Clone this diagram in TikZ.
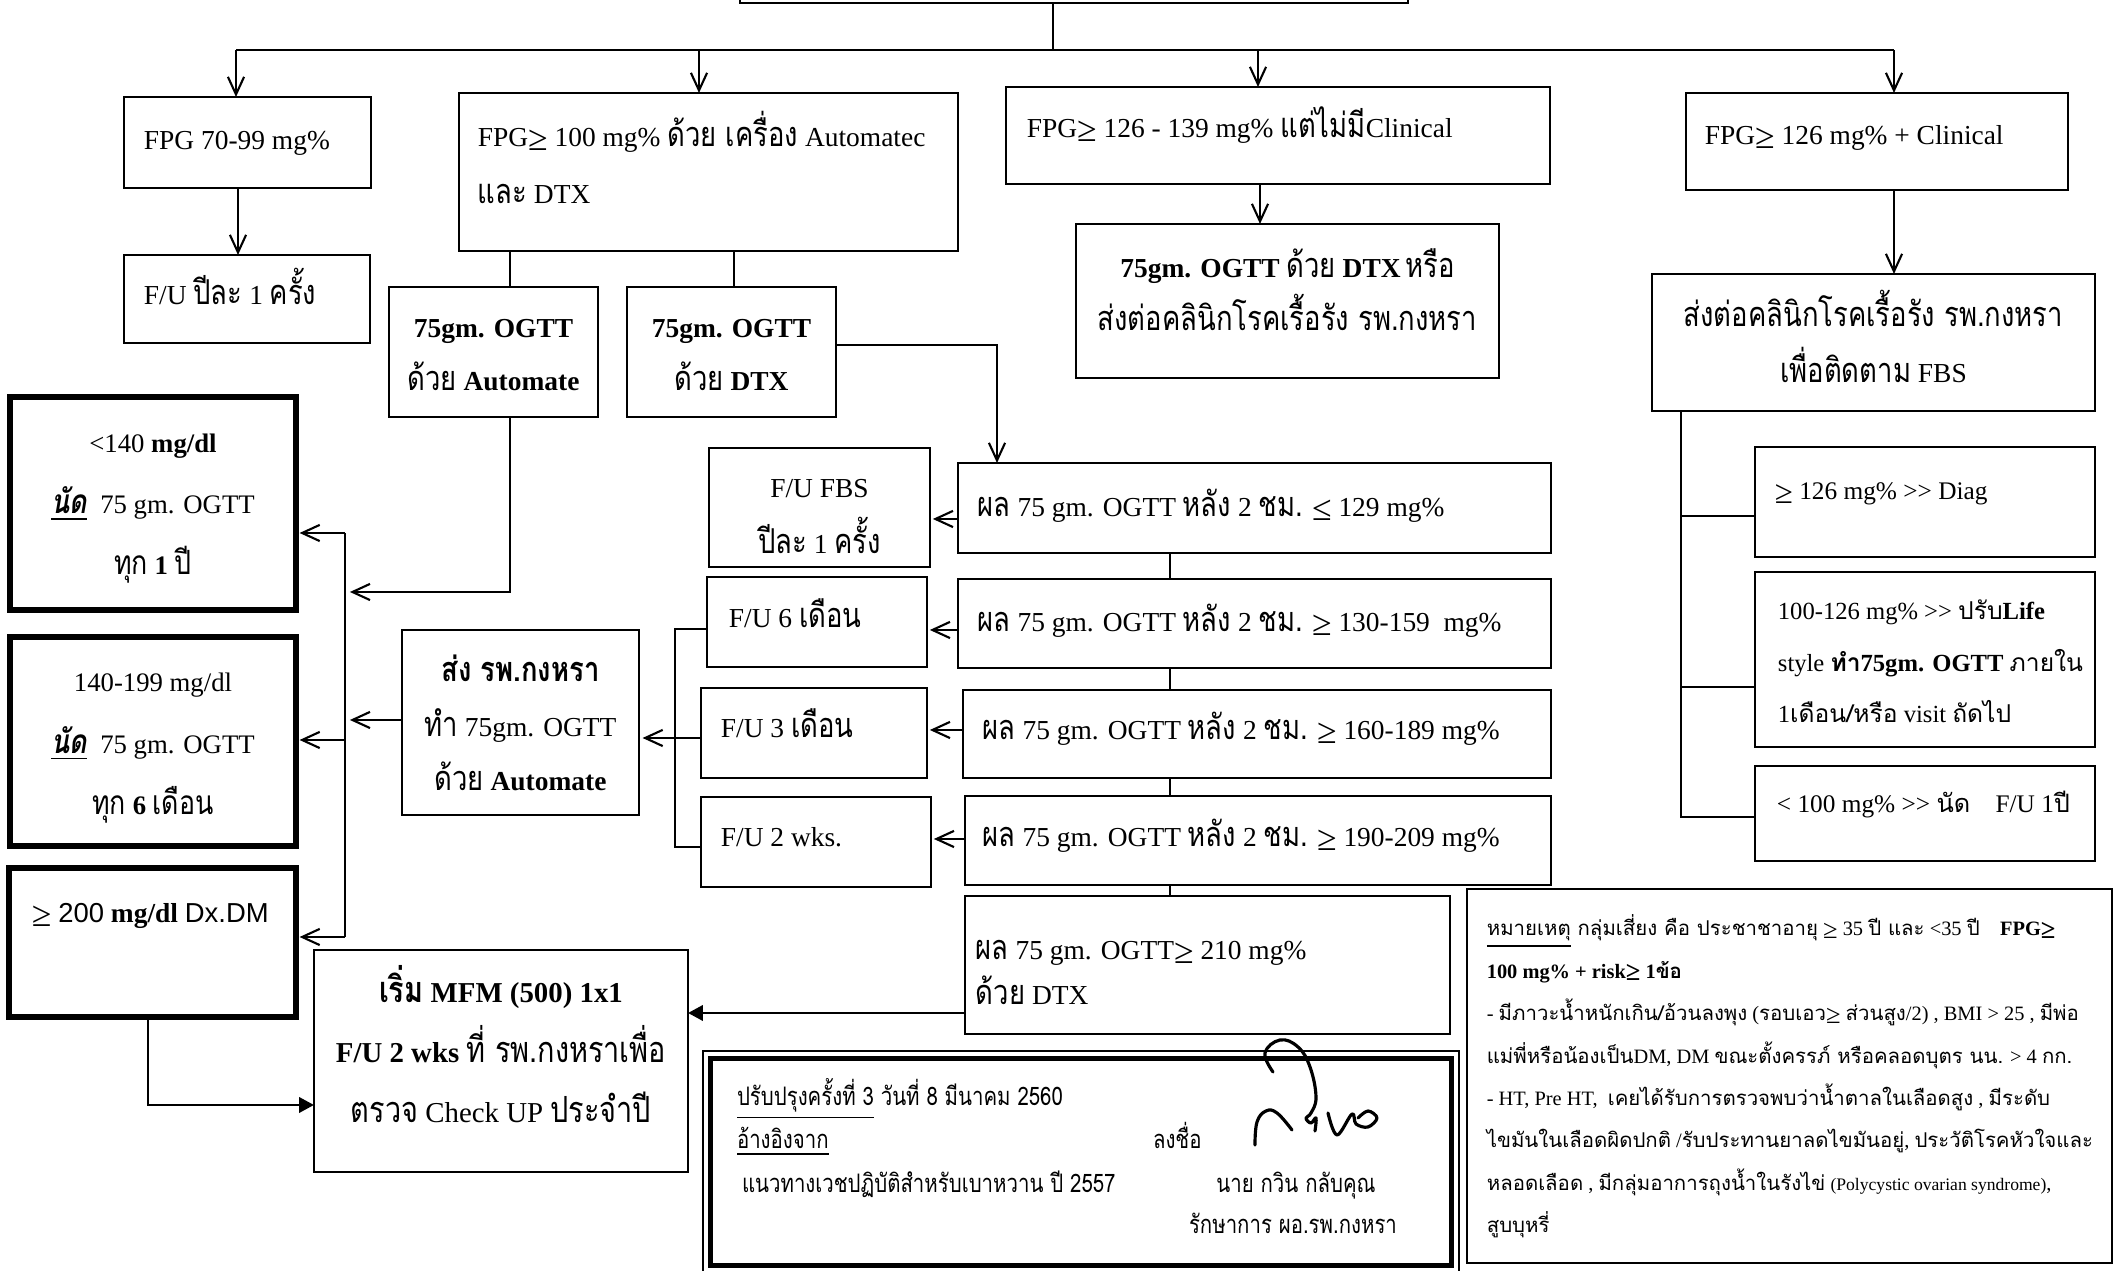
\documentclass[tikz,border=0pt]{standalone}
\usepackage{fontspec}
\usepackage{graphicx}
\setmainfont{Liberation Serif}
\newfontfamily\thaifont[Script=Thai,Scale=1.25,FakeStretch=0.8]{Loma}
\newfontfamily\thaiN[Script=Thai]{Loma}
\newfontfamily\sansfnt{Liberation Sans}
\usetikzlibrary{arrows.meta,calc}
\newdimen\pxu \pxu=0.1mm
\newcommand\T[1]{{\thaifont #1}}
\newcommand\GE{\raisebox{-0.13em}{\scalebox{1.3}{≥}}}
\newcommand\LE{\raisebox{-0.13em}{\scalebox{1.3}{≤}}}
\newcommand\GT{>{}>}
\newcommand\fs[2]{\fontsize{#1}{#2}\selectfont}
\newcommand\fm{\fontsize{7.8}{9}\selectfont}
\newcommand\fc{\let\thaifont\thaiN\fontsize{7.2}{8.5}\selectfont}
% left text: width, pad, raise, font, lines
\newcommand\LT[5]{\makebox[#1\pxu][l]{\hspace*{#2\pxu}\raisebox{#3\pxu}[0pt][0pt]{#4\begin{tabular}[t]{@{}l@{}}#5\end{tabular}}}}
% centred text: raise, font, lines
\newcommand\CT[3]{\raisebox{#1\pxu}[0pt][0pt]{#2\begin{tabular}[t]{@{}c@{}}#3\end{tabular}}}
\tikzset{
  bx/.style n args={4}{draw, line width=0.6pt, inner sep=0pt, outer sep=0pt,
    minimum width={(#3-#1)*0.1mm}, minimum height={(#4-#2)*0.1mm},
    at={({(#1+#3)/2},{(#2+#4)/2})}},
  thickbox/.style={line width=1.5pt},
  ln/.style={line width=0.6pt},
  arr/.style={ln, -{Straight Barb[length=5pt,width=4.6pt]}},
  farr/.style={ln, -{Triangle[length=4.2pt,width=4.4pt]}},
  sig/.style={line width=0.9pt, line cap=round, line join=round},
  txt/.style={inner sep=0pt, outer sep=0pt}
}
\begin{document}
\begin{tikzpicture}[x=0.01cm, y=-0.01cm]
\useasboundingbox (0,0) rectangle (2117,1271);

% ---------- boxes ----------
\node[bx={740}{-100}{1408}{3}] (top) {};
\node[bx={124}{97}{371}{188}] (b1) {\LT{247}{20}{-7.5}{\fm}{FPG 70-99 mg\%}};
\node[bx={124}{255}{370}{343}] (b5) {\LT{246}{20}{-6}{\fm}{F/U \T{ปีละ} 1 \T{ครั้ง}}};
\node[bx={459}{93}{958}{251}] (b2) {\LT{499}{19}{25}{\fs{7.8}{16.2}}{FPG\GE\ 100 mg\% \T{ด้วย เครื่อง} Automatec\\ \T{และ} DTX}};
\node[bx={1006}{87}{1550}{184}] (b3) {\LT{544}{21}{-2.5}{\fm}{FPG\GE\ 126 - 139 mg\% \T{แต่ไม่มี}Clinical}};
\node[bx={1686}{93}{2068}{190}] (b4) {\LT{382}{19}{-3.5}{\fm}{FPG\GE\ 126 mg\% + Clinical}};
\node[bx={389}{287}{598}{417}] (b6) {\CT{14}{\fs{7.8}{15}}{\textbf{75gm. OGTT}\\ \T{ด้วย} \textbf{Automate}}};
\node[bx={627}{287}{836}{417}] (b7) {\CT{14}{\fs{7.8}{15}}{\textbf{75gm. OGTT}\\ \T{ด้วย} \textbf{DTX}}};
\node[bx={1076}{224}{1499}{378}] (b8) {\CT{23}{\fs{7.8}{15}}{\textbf{75gm. OGTT} \T{ด้วย} \textbf{DTX}\,\T{หรือ}\\ \T{ส่งต่อคลินิกโรคเรื้อรัง รพ.กงหรา}}};
\node[bx={1652}{274}{2095}{411}] (b9) {\CT{15.5}{\fs{7.8}{15.9}}{\T{ส่งต่อคลินิกโรคเรื้อรัง รพ.กงหรา}\\ \T{เพื่อติดตาม} FBS}};

\node[bx={1755}{447}{2095}{557}] (c1) {\LT{340}{20}{2}{\fc}{\GE\ 126 mg\% \GT\ Diag}};
\node[bx={1755}{572}{2095}{747}] (c2) {\LT{340}{23}{39.5}{\fc\fs{7}{14.6}}{100-126 mg\% \GT\ \T{ปรับ}\textbf{Life}\\ style \textbf{\T{ทำ}75gm. OGTT} \T{ภายใน}\\ 1\T{เดือน/หรือ} visit \T{ถัดไป}}};
\node[bx={1755}{766}{2095}{861}] (c3) {\LT{340}{22}{0.5}{\fc}{< 100 mg\% \GT\ \T{นัด}\quad F/U 1\T{ปี}}};

\node[bx={10}{397}{296}{610}, thickbox] (l1) {\CT{50.5}{\fs{7.6}{17.3}}{<140 \textbf{mg/dl}\\ \textbf{\textit{\underline{\T{นัด}}}}\ \ 75 gm. OGTT\\ \T{ทุก} \textbf{1} \T{ปี}}};
\node[bx={10}{637}{296}{846}, thickbox] (l2) {\CT{49.5}{\fs{7.6}{17.4}}{140-199 mg/dl\\ \textbf{\textit{\underline{\T{นัด}}}}\ \ 75 gm. OGTT\\ \T{ทุก} \textbf{6} \T{เดือน}}};
\node[bx={9}{868}{296}{1017}, thickbox] (l3) {\LT{287}{23}{19.5}{\fm}{\GE\ {\sansfnt 200} \textbf{mg/dl} {\sansfnt Dx.DM}}};

\node[bx={402}{630}{639}{815}] (s) {\CT{40.5}{\fs{7.8}{15.4}}{\textbf{\T{ส่ง รพ.กงหรา}}\\ \T{ทำ} 75gm. OGTT\\ \T{ด้วย} \textbf{Automate}}};
\node[bx={314}{950}{688}{1172}] (m) {\CT{58}{\fs{8.2}{17}}{\textbf{\T{เริ่ม} MFM (500) 1x1}\\ \textbf{F/U 2 wks} \T{ที่ รพ.กงหราเพื่อ}\\ \T{ตรวจ} Check UP \T{ประจำปี}}};

\node[bx={958}{463}{1551}{553}] (r1) {\LT{593}{20}{-9}{\fm}{\T{ผล} 75 gm. OGTT \T{หลัง} 2 \T{ชม.} \LE\ 129 mg\%}};
\node[bx={958}{579}{1551}{668}] (r2) {\LT{593}{20}{-8.5}{\fm}{\T{ผล} 75 gm. OGTT \T{หลัง} 2 \T{ชม.} \GE\ 130-159\ \ mg\%}};
\node[bx={963}{690}{1551}{778}] (r3) {\LT{588}{20}{-6}{\fm}{\T{ผล} 75 gm. OGTT \T{หลัง} 2 \T{ชม.} \GE\ 160-189 mg\%}};
\node[bx={965}{796}{1551}{885}] (r4) {\LT{586}{18}{-6.5}{\fm}{\T{ผล} 75 gm. OGTT \T{หลัง} 2 \T{ชม.} \GE\ 190-209 mg\%}};
\node[bx={965}{896}{1450}{1034}] (r5) {\LT{485}{11}{5}{\fs{7.8}{12.8}}{\T{ผล} 75 gm. OGTT\GE\ 210 mg\%\\ \T{ด้วย} DTX}};

\node[bx={709}{448}{930}{567}] (f1) {\CT{9.5}{\fs{7.8}{15.9}}{F/U FBS\\ \T{ปีละ} 1 \T{ครั้ง}}};
\node[bx={707}{577}{927}{667}] (f2) {\LT{220}{22}{-6}{\fm}{F/U 6 \T{เดือน}}};
\node[bx={701}{688}{927}{778}] (f3) {\LT{226}{20}{-5}{\fm}{F/U 3 \T{เดือน}}};
\node[bx={701}{797}{931}{887}] (f4) {\LT{230}{20}{-5}{\fm}{F/U 2 wks.}};

\node[bx={1467}{889}{2112}{1263}] (note) {\LT{645}{20}{140}{\let\thaifont\thaiN\fs{5.8}{12.05}}{%
\underline{\T{หมายเหตุ}}\T{ กลุ่มเสี่ยง คือ ประชาชาอายุ} \GE\ 35 \T{ปี และ} <35 \T{ปี}\quad \textbf{FPG\GE}\\
\textbf{100 mg\% + risk\GE\ 1\T{ข้อ}}\\
- \T{มีภาวะน้ำหนักเกิน/อ้วนลงพุง} (\T{รอบเอว}\GE\ \T{ส่วนสูง}/2) , BMI > 25 , \T{มีพ่อ}\\
\T{แม่พี่หรือน้องเป็น}DM, DM \T{ขณะตั้งครรภ์ หรือคลอดบุตร นน.} > 4 \T{กก.}\\
- HT, Pre HT,\ \ \T{เคยได้รับการตรวจพบว่าน้ำตาลในเลือดสูง} , \T{มีระดับ}\\
\T{ไขมันในเลือดผิดปกติ} /\T{รับประทานยาลดไขมันอยู่}, \T{ประวัติโรคหัวใจและ}\\
\T{หลอดเลือด} , \T{มีกลุ่มอาการถุงน้ำในรังไข่} {\fontsize{5}{6}\selectfont (Polycystic ovarian syndrome)},\\
\T{สูบบุหรี่}}};

% footer
\node[bx={703}{1051}{1459}{1273}, line width=0.5pt] (foot) {};
\draw[line width=1.4pt] ($(foot.north west)+(8,8)$) rectangle ($(foot.south east)+(-8,-8)$);
\node[txt, anchor=base west] (ft1) at (737,1106) {\fs{5.8}{7}\underline{\T{ปรับปรุงครั้งที่ 3}}\T{ วันที่ 8 มีนาคม 2560}};
\node[txt, anchor=base west] (ft2) at (737,1149) {\fs{5.8}{7}\underline{\T{อ้างอิงจาก}}};
\node[txt, anchor=base west] (ft3) at (1153,1149) {\fs{5.8}{7}\T{ลงชื่อ}};
\node[txt, anchor=base west] (ft4) at (742,1193) {\fs{5.8}{7}\T{แนวทางเวชปฏิบัติสำหรับเบาหวาน ปี 2557}};
\node[txt, anchor=base] (ft5) at (1296,1193) {\fs{5.8}{7}\T{นาย กวิน กลับคุณ}};
\node[txt, anchor=base] (ft6) at (1293,1234) {\fs{5.8}{7}\T{รักษาการ ผอ.รพ.กงหรา}};

% signature
\draw[sig] plot[smooth, tension=0.7] coordinates {(1273,1072) (1265,1053) (1280,1040) (1298,1047) (1310,1067) (1316,1097) (1311,1113) (1306,1118) (1311,1123) (1316,1118) (1315,1131)};
\draw[sig] plot[smooth, tension=0.7] coordinates {(1255,1145) (1257,1122) (1266,1111) (1277,1113) (1292,1130)};
\draw[sig] plot[smooth, tension=0.6] coordinates {(1328,1113) (1337,1135) (1352,1114) (1356,1124) (1368,1127) (1377,1118) (1368,1111) (1358,1118)};

% ---------- connectors ----------
\coordinate (tb) at (1053,50);
\coordinate (t1) at (236,50);
\coordinate (t2) at (699,50);
\coordinate (t3) at (1258,50);
\coordinate (t4) at (1894,50);
\draw[ln] (top.south -| tb) -- (tb);
\draw[ln] (t1) -- (t4);
\draw[arr] (t1) -- (t1 |- b1.north);
\draw[arr] (t2) -- (t2 |- b2.north);
\draw[arr] (t3) -- (t3 |- b3.north);
\draw[arr] (t4) -- (t4 |- b4.north);

\coordinate (a1) at (238,0);
\draw[arr] (b1.south -| a1) -- (b5.north -| a1);
\coordinate (a2) at (510,0);
\draw[ln] (b2.south -| a2) -- (b6.north -| a2);
\coordinate (a3) at (734,0);
\draw[ln] (b2.south -| a3) -- (b7.north -| a3);
\coordinate (k1) at (997,345);
\draw[arr] (b7.east |- k1) -- (k1) -- (k1 |- r1.north);
\coordinate (a4) at (1260,0);
\draw[arr] (b3.south -| a4) -- (b8.north -| a4);
\draw[arr] (b4.south -| t4) -- (b9.north -| t4);

\coordinate (cb) at (1681,817);
\coordinate (s1) at (1681,516);
\coordinate (s2) at (1681,687);
\draw[ln] (b9.south -| cb) -- (cb) -- (cb -| c3.west);
\draw[ln] (s1) -- (s1 -| c1.west);
\draw[ln] (s2) -- (s2 -| c2.west);

\coordinate (rx) at (1170,0);
\draw[ln] (r1.south -| rx) -- (r2.north -| rx);
\draw[ln] (r2.south -| rx) -- (r3.north -| rx);
\draw[ln] (r3.south -| rx) -- (r4.north -| rx);
\draw[ln] (r4.south -| rx) -- (r5.north -| rx);

\coordinate (q1) at (0,519);
\coordinate (q2) at (0,630);
\coordinate (q3) at (0,730);
\coordinate (q4) at (0,839);
\draw[arr, shorten >=0.8pt] (r1.west |- q1) -- (f1.east |- q1);
\draw[arr, shorten >=0.8pt] (r2.west |- q2) -- (f2.east |- q2);
\draw[arr, shorten >=0.8pt] (r3.west |- q3) -- (f3.east |- q3);
\draw[arr, shorten >=0.8pt] (r4.west |- q4) -- (f4.east |- q4);

\coordinate (g2) at (675,629);
\coordinate (g3) at (675,738);
\coordinate (g4) at (675,847);
\draw[ln] (f2.west |- g2) -- (g2) -- (g4) -- (f4.west |- g4);
\draw[ln] (f3.west |- g3) -- (g3);
\draw[arr, shorten >=1pt] (g3) -- (s.east |- g3);

\coordinate (lb1) at (345,533);
\coordinate (lb2) at (345,740);
\coordinate (lb3) at (345,937);
\draw[ln] (lb1) -- (lb3);
\draw[arr, shorten >=1pt] (lb1) -- (l1.east |- lb1);
\draw[arr, shorten >=1pt] (lb2) -- (l2.east |- lb2);
\draw[arr, shorten >=1pt] (lb3) -- (l3.east |- lb3);
\coordinate (k2) at (510,592);
\draw[arr, shorten >=1.4pt] (b6.south -| k2) -- (k2) -- (k2 -| lb1);
\coordinate (k5) at (0,720);
\draw[arr, shorten >=1.4pt] (s.west |- k5) -- (lb1 |- k5);
\coordinate (k3) at (148,1105);
\draw[farr] (l3.south -| k3) -- (k3) -- (m.west |- k3);
\coordinate (k4) at (0,1013);
\draw[farr] (r5.west |- k4) -- (m.east |- k4);
\end{tikzpicture}
\end{document}
